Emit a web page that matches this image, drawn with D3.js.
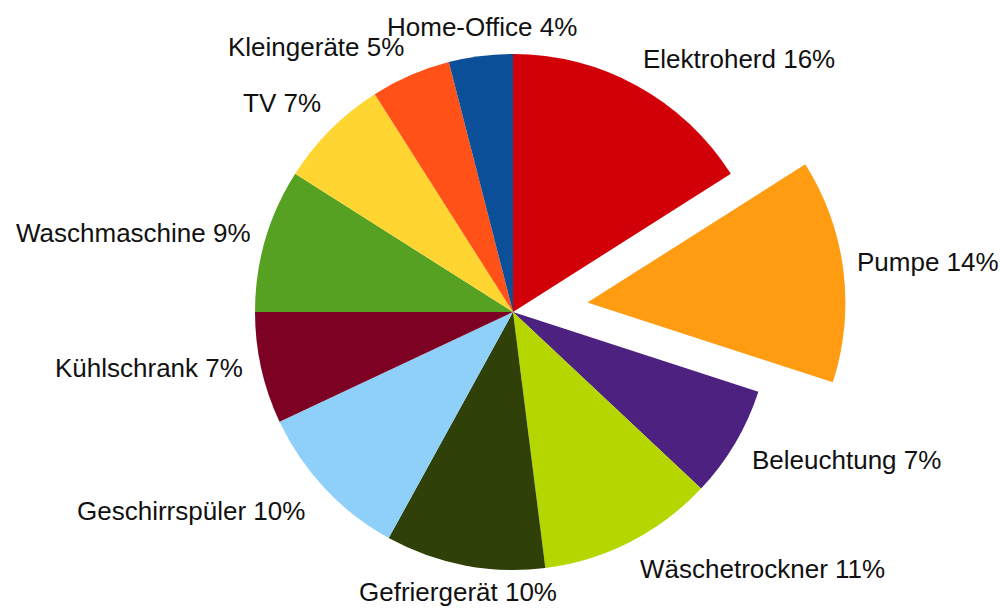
<!DOCTYPE html>
<html>
<head>
<meta charset="utf-8">
<script src="https://cdn.jsdelivr.net/npm/d3@7/dist/d3.min.js"></script>
<style>
  body { margin: 0; background: #fff; }
  svg { display: block; }
  .label { font-family: "Liberation Sans", Arial, sans-serif; font-size: 26px; fill: #111; }
</style>
</head>
<body>
<div id="chart"></div>
<script>
// slices clockwise from 12 o'clock
var categories = ["Elektroherd", "Pumpe", "Beleuchtung", "Wäschetrockner", "Gefriergerät",
  "Geschirrspüler", "Kühlschrank", "Waschmaschine", "TV", "Kleingeräte", "Home-Office"];
var shares = [16, 14, 7, 11, 10, 10, 7, 9, 7, 5, 4];
var colors = ["#d20008", "#ff9c12", "#4c2180", "#b6d600", "#2f4008",
  "#8fd0fb", "#7c0122", "#56a022", "#ffd531", "#ff5118", "#0a4f98"];
var exploded = ["Pumpe"];

// label anchors (left x, baseline y)
var labelPos = {
  "Elektroherd": [643, 68], "Pumpe": [857, 271], "Beleuchtung": [752, 469],
  "Wäschetrockner": [640, 578], "Gefriergerät": [359, 601], "Geschirrspüler": [77, 520],
  "Kühlschrank": [55, 377], "Waschmaschine": [16, 242], "TV": [243, 112],
  "Kleingeräte": [228, 56], "Home-Office": [387, 36]
};

var width = 1000, height = 608,
    cx = 513, cy = 312, radius = 258, explode = 75;

var data = categories.map(function(c, i) { return {name: c, value: shares[i]}; });

var color = d3.scaleOrdinal().domain(categories).range(colors);

var pie = d3.pie()
  .sort(null)
  .value(function(d) { return d.value; });

var arc = d3.arc()
  .innerRadius(0)
  .outerRadius(radius);

var svg = d3.select("#chart").append("svg")
    .attr("width", width)
    .attr("height", height);

var g = svg.append("g")
    .attr("transform", "translate(" + cx + "," + cy + ")");

g.selectAll(".slice")
  .data(pie(data))
  .enter().append("path")
    .attr("class", "slice")
    .attr("transform", function(d) {
      if (exploded.indexOf(d.data.name) < 0) return null;
      var a = (d.startAngle + d.endAngle) / 2;
      return "translate(" + (Math.sin(a) * explode) + "," + (-Math.cos(a) * explode) + ")";
    })
    .style("fill", function(d) { return color(d.data.name); })
    .attr("d", arc);

svg.selectAll(".label")
  .data(data)
  .enter().append("text")
    .attr("class", "label")
    .attr("x", function(d) { return labelPos[d.name][0]; })
    .attr("y", function(d) { return labelPos[d.name][1]; })
    .text(function(d) { return d.name + " " + d.value + "%"; });
</script>
</body>
</html>
